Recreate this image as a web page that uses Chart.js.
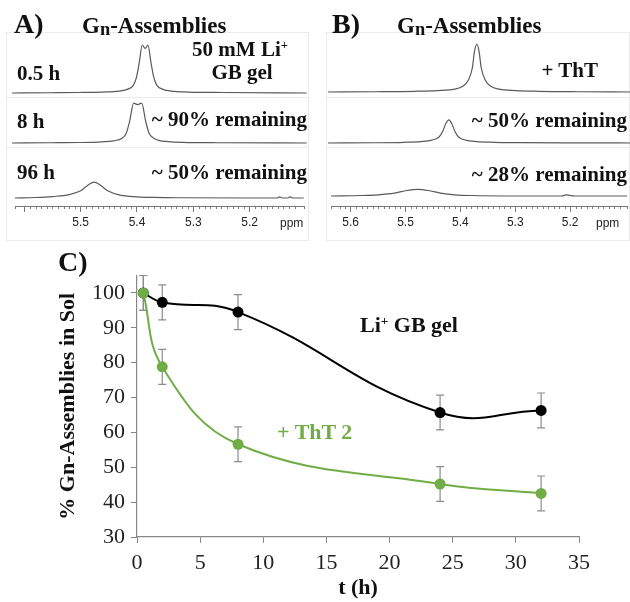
<!DOCTYPE html>
<html>
<head>
<meta charset="utf-8">
<title>Gn-Assemblies in Sol</title>
<style>
    body { margin: 0; background: #fff; }
    #fig { position: relative; width: 630px; height: 602px; overflow: hidden; }
    #fig canvas { position: absolute; }
    .lab { position: absolute; font-family: "Liberation Serif", serif; font-weight: bold; line-height: 1; white-space: nowrap; color: #111; }
    .ppm { position: absolute; font-family: "Liberation Sans", sans-serif; font-size: 12px; line-height: 1; color: #222; }
    .box { position: absolute; border: 1px solid #ebebeb; box-sizing: border-box; }
    .sep { position: absolute; height: 0; border-top: 1px solid #ebebeb; }
    .sub { font-size: 0.8em; position: relative; top: 0.12em; }
    .sup { font-size: 0.6em; position: relative; top: -0.55em; }
</style>
<script src="https://cdn.jsdelivr.net/npm/chart.js"></script>
</head>
<body>
<div id="fig">
    <!-- panel frames -->
    <div class="box" style="left:6px; top:32px; width:303px; height:209px;"></div>
    <div class="sep" style="left:6px; top:97px; width:303px;"></div>
    <div class="sep" style="left:6px; top:147px; width:303px;"></div>
    <div class="box" style="left:326px; top:32px; width:304px; height:209px;"></div>
    <div class="sep" style="left:326px; top:97px; width:304px;"></div>
    <div class="sep" style="left:326px; top:147px; width:304px;"></div>

    <canvas id="a1" width="295" height="65" style="left:12px; top:32px;"></canvas>
    <canvas id="a2" width="295" height="50" style="left:12px; top:97px;"></canvas>
    <canvas id="a3" width="295" height="85" style="left:12px; top:147px;"></canvas>
    <canvas id="b1" width="302" height="65" style="left:328px; top:32px;"></canvas>
    <canvas id="b2" width="302" height="50" style="left:328px; top:97px;"></canvas>
    <canvas id="b3" width="302" height="85" style="left:328px; top:147px;"></canvas>
    <canvas id="chartC" width="630" height="372" style="left:0; top:230px;"></canvas>

    <!-- panel A text -->
    <div class="lab" style="left:14px; top:10px; font-size:28px;">A)</div>
    <div class="lab" style="left:82px; top:14px; font-size:23px;">G<span class="sub">n</span>-Assemblies</div>
    <div class="lab" style="left:180px; top:39px; width:120px; text-align:center; font-size:21px;">50 mM Li<span class="sup">+</span></div>
    <div class="lab" style="left:182px; top:62px; width:120px; text-align:center; font-size:21px;">GB gel</div>
    <div class="lab" style="left:17px; top:63px; font-size:21px;">0.5 h</div>
    <div class="lab" style="left:17px; top:111px; font-size:21px;">8 h</div>
    <div class="lab" style="right:323px; top:109px; font-size:21px;">~ 90% remaining</div>
    <div class="lab" style="left:17px; top:162px; font-size:21px;">96 h</div>
    <div class="lab" style="right:323px; top:162px; font-size:21px;">~ 50% remaining</div>
    <div class="ppm" style="left:280px; top:217px;">ppm</div>

    <!-- panel B text -->
    <div class="lab" style="left:332px; top:10px; font-size:28px;">B)</div>
    <div class="lab" style="left:397px; top:14px; font-size:23px;">G<span class="sub">n</span>-Assemblies</div>
    <div class="lab" style="right:32px; top:60px; font-size:21px;">+ ThT</div>
    <div class="lab" style="right:3px; top:110px; font-size:21px;">~ 50% remaining</div>
    <div class="lab" style="right:3px; top:164px; font-size:21px;">~ 28% remaining</div>
    <div class="ppm" style="left:596px; top:217px;">ppm</div>

    <!-- panel C text -->
    <div class="lab" style="left:58px; top:248px; font-size:28px;">C)</div>
    <div class="lab" style="left:360px; top:314px; font-size:22px;">Li<span class="sup">+</span> GB gel</div>
    <div class="lab" style="left:277px; top:421px; font-size:22px; color:#70ad47;">+ ThT 2</div>
</div>

<script>
    // ---- panel C data ----
    const hours = [0.5, 2, 8, 24, 32];
    const liGel = [100, 97.3, 94.5, 65.7, 66.3];
    const liGelErr = [5, 5, 5, 5, 5];
    const tht = [100, 78.8, 56.6, 45.2, 42.5];
    const thtErr = [5, 5, 5, 5, 5];
    const yTicks = [30, 40, 50, 60, 70, 80, 90, 100];
    const xTicks = [0, 5, 10, 15, 20, 25, 30, 35];

    // ---- NMR traces (ppm, relative intensity) ----
    const ppmA1 = [5.617, 5.55, 5.50, 5.46, 5.43, 5.415, 5.405, 5.40, 5.395, 5.39, 5.385, 5.38, 5.375, 5.37, 5.365, 5.355, 5.34, 5.31, 5.25, 5.104];
    const intA1 = [0, 0.005, 0.01, 0.02, 0.04, 0.08, 0.17, 0.33, 0.65, 1.0, 0.93, 1.0, 0.65, 0.33, 0.17, 0.08, 0.04, 0.02, 0.01, 0];
    const ppmA2 = [5.617, 5.55, 5.50, 5.46, 5.44, 5.425, 5.418, 5.412, 5.405, 5.398, 5.391, 5.384, 5.378, 5.37, 5.36, 5.345, 5.32, 5.26, 5.104];
    const intA2 = [0, 0.005, 0.01, 0.025, 0.045, 0.1, 0.2, 0.45, 0.83, 0.8, 0.83, 0.45, 0.2, 0.1, 0.05, 0.03, 0.015, 0.005, 0];
    const ppmA3 = [5.617, 5.58, 5.55, 5.52, 5.50, 5.49, 5.476, 5.462, 5.452, 5.43, 5.40, 5.37, 5.32, 5.20, 5.152, 5.147, 5.142, 5.133, 5.128, 5.123, 5.104];
    const intA3 = [0, 0.01, 0.03, 0.07, 0.15, 0.24, 0.33, 0.24, 0.15, 0.06, 0.025, 0.012, 0.005, 0, 0, 0.025, 0, 0, 0.025, 0, 0];
    const ppmB1 = [5.636, 5.55, 5.48, 5.44, 5.41, 5.395, 5.385, 5.378, 5.374, 5.37, 5.366, 5.362, 5.355, 5.345, 5.33, 5.30, 5.26, 5.19, 5.096];
    const intB1 = [0, 0.005, 0.015, 0.03, 0.06, 0.12, 0.25, 0.5, 0.85, 1.0, 0.85, 0.5, 0.25, 0.12, 0.06, 0.03, 0.015, 0.005, 0];
    const ppmB2 = [5.636, 5.55, 5.50, 5.47, 5.45, 5.437, 5.431, 5.425, 5.42, 5.415, 5.409, 5.403, 5.39, 5.37, 5.34, 5.29, 5.20, 5.096];
    const intB2 = [0, 0.005, 0.015, 0.03, 0.06, 0.13, 0.24, 0.41, 0.48, 0.41, 0.24, 0.13, 0.06, 0.03, 0.015, 0.008, 0.003, 0];
    const ppmB3 = [5.636, 5.58, 5.55, 5.52, 5.50, 5.478, 5.456, 5.436, 5.41, 5.38, 5.30, 5.215, 5.207, 5.20, 5.192, 5.096];
    const intB3 = [0, 0.01, 0.025, 0.06, 0.11, 0.14, 0.11, 0.06, 0.025, 0.01, 0, 0, 0.025, 0.01, 0, 0];

    const rangeA = [5.1035, 5.6165];
    const rangeB = [5.0964, 5.6357];
    const ppmLabelsA = ['5.5', '5.4', '5.3', '5.2'];
    const ppmLabelsB = ['5.6', '5.5', '5.4', '5.3', '5.2'];

    const GREEN = '#70ad47';
    const PX_PER_UNIT = 48;
    const AXIS_Y = 206;

    function isMajor(v) {
        return Math.abs(v * 10 - Math.round(v * 10)) < 1e-6;
    }

    const minorTicks = {
        id: 'minorTicks',
        afterDraw(chart) {
            const sc = chart.scales.x, ctx = chart.ctx;
            ctx.save();
            ctx.strokeStyle = '#777';
            ctx.lineWidth = 1;
            sc.ticks.forEach(t => {
                if (isMajor(t.value)) return;
                const px = Math.round(sc.getPixelForValue(t.value)) + 0.5;
                ctx.beginPath();
                ctx.moveTo(px, sc.top);
                ctx.lineTo(px, sc.top + 3);
                ctx.stroke();
            });
            ctx.restore();
        }
    };

    function trace(id, ppm, inten, range, top, height, base, labels) {
        const withAxis = !!labels;
        const bottom = withAxis ? AXIS_Y : top + height;
        new Chart(document.getElementById(id), {
            type: 'line',
            data: {
                datasets: [{
                    data: ppm.map((p, i) => ({ x: p, y: inten[i] })),
                    borderColor: '#5a5a5a',
                    borderWidth: 1.2,
                    pointRadius: 0,
                    cubicInterpolationMode: 'monotone',
                    fill: false
                }]
            },
            options: {
                responsive: false,
                animation: false,
                events: [],
                layout: { padding: 0 },
                plugins: { legend: { display: false }, tooltip: { enabled: false } },
                scales: {
                    x: {
                        type: 'linear',
                        reverse: true,
                        min: range[0],
                        max: range[1],
                        display: withAxis,
                        afterFit: s => { s.height = top + height - AXIS_Y; },
                        grid: {
                            drawOnChartArea: false,
                            tickLength: 6,
                            tickColor: c => (c.tick && isMajor(c.tick.value)) ? '#777' : 'rgba(0,0,0,0)'
                        },
                        border: { color: '#777', width: 1 },
                        ticks: {
                            stepSize: 0.01,
                            autoSkip: false,
                            maxRotation: 0,
                            padding: 3,
                            color: '#222',
                            font: { family: 'Liberation Sans', size: 12 },
                            callback: v => (isMajor(v) && labels && labels.includes(v.toFixed(1))) ? v.toFixed(1) : ''
                        }
                    },
                    y: {
                        display: false,
                        min: -(bottom - base) / PX_PER_UNIT,
                        max: (base - top) / PX_PER_UNIT
                    }
                }
            },
            plugins: withAxis ? [minorTicks] : []
        });
    }

    trace('a1', ppmA1, intA1, rangeA, 32, 65, 93, null);
    trace('a2', ppmA2, intA2, rangeA, 97, 50, 143, null);
    trace('a3', ppmA3, intA3, rangeA, 147, 85, 198, ppmLabelsA);
    trace('b1', ppmB1, intB1, rangeB, 32, 65, 92, null);
    trace('b2', ppmB2, intB2, rangeB, 97, 50, 143, null);
    trace('b3', ppmB3, intB3, rangeB, 147, 85, 196, ppmLabelsB);

    // error bars drawn from each dataset's errors array
    const errorBars = {
        id: 'errorBars',
        beforeDatasetsDraw(chart) {
            const { ctx, scales: { x, y } } = chart;
            ctx.save();
            ctx.strokeStyle = '#8c8c8c';
            ctx.lineWidth = 1.2;
            chart.data.datasets.forEach(ds => {
                ds.data.forEach((pt, i) => {
                    const e = ds.errors[i];
                    const px = x.getPixelForValue(pt.x);
                    const yTop = y.getPixelForValue(pt.y + e);
                    const yBot = y.getPixelForValue(pt.y - e);
                    ctx.beginPath();
                    ctx.moveTo(px, yTop); ctx.lineTo(px, yBot);
                    ctx.moveTo(px - 4, yTop); ctx.lineTo(px + 4, yTop);
                    ctx.moveTo(px - 4, yBot); ctx.lineTo(px + 4, yBot);
                    ctx.stroke();
                });
            });
            ctx.restore();
        }
    };

    const serif = 'Liberation Serif';

    new Chart(document.getElementById('chartC'), {
        type: 'scatter',
        data: {
            datasets: [
                {
                    label: '+ ThT 2',
                    data: hours.map((h, i) => ({ x: h, y: tht[i] })),
                    errors: thtErr,
                    showLine: true,
                    tension: 0.4,
                    borderColor: GREEN,
                    backgroundColor: GREEN,
                    borderWidth: 2,
                    pointRadius: 5.5,
                    pointBorderWidth: 0
                },
                {
                    label: 'Li+ GB gel',
                    data: hours.map((h, i) => ({ x: h, y: liGel[i] })),
                    errors: liGelErr,
                    showLine: true,
                    tension: 0.45,
                    borderColor: '#000',
                    backgroundColor: '#000',
                    borderWidth: 2,
                    pointRadius: 5.5,
                    pointBorderWidth: 0
                }
            ]
        },
        options: {
            responsive: false,
            animation: false,
            events: [],
            layout: { padding: { top: 45.5, right: 51, left: 0, bottom: 0 } },
            plugins: { legend: { display: false }, tooltip: { enabled: false } },
            scales: {
                x: {
                    type: 'linear',
                    min: 0,
                    max: 35,
                    afterBuildTicks: s => { s.ticks = xTicks.map(v => ({ value: v })); },
                    afterFit: s => { s.height = 65; },
                    grid: { drawOnChartArea: false, tickLength: 6, color: '#888' },
                    border: { color: '#888', width: 1.2 },
                    ticks: { padding: 7, color: '#222', font: { family: serif, size: 22 } },
                    title: {
                        display: true,
                        text: 't (h)',
                        color: '#111',
                        padding: { top: 0, bottom: 0 },
                        font: { family: serif, size: 22, weight: 'bold' }
                    }
                },
                y: {
                    min: 30,
                    max: 105,
                    afterBuildTicks: s => { s.ticks = yTicks.map(v => ({ value: v })); },
                    afterFit: s => { s.width = 137; },
                    grid: { drawOnChartArea: false, tickLength: 6, color: '#888' },
                    border: { color: '#888', width: 1.2 },
                    ticks: { padding: 6, color: '#222', font: { family: serif, size: 22 } },
                    title: {
                        display: true,
                        text: '% Gn-Assemblies in Sol',
                        color: '#111',
                        padding: { top: 55, bottom: 0 },
                        font: { family: serif, size: 22, weight: 'bold' }
                    }
                }
            }
        },
        plugins: [errorBars]
    });
</script>
</body>
</html>
